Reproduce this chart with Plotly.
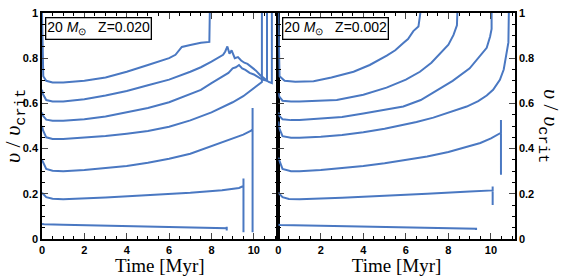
import plotly.graph_objects as go

# ---------------- data: left panel, Z = 0.020 ----------------
L1_t = [0, 0.1, 1, 3, 5, 7, 8.6, 8.72, 8.72, 8.72]
L1_v = [0.066, 0.065, 0.063, 0.059, 0.055, 0.051, 0.048, 0.048, 0.038, 0.054]

L2_t = [0, 0.05, 0.2, 0.5, 1, 3, 5, 7, 8.5, 9.3, 9.45, 9.51, 9.51, 9.51]
L2_v = [0.205, 0.2, 0.185, 0.178, 0.176, 0.184, 0.193, 0.205, 0.216, 0.226, 0.232, 0.232, 0.268, 0.03]

L3_t = [0, 0.05, 0.2, 0.5, 1, 2, 3, 4, 5, 6, 7, 8, 9, 9.5, 9.85, 9.94, 9.94, 9.94]
L3_v = [0.35, 0.34, 0.31, 0.302, 0.30, 0.305, 0.313, 0.323, 0.337, 0.355, 0.377, 0.41, 0.445, 0.462, 0.478, 0.485, 0.58, 0.03]

L4_t = [0, 0.05, 0.2, 0.5, 1, 2, 3, 4, 5, 6, 7, 8, 9, 9.5, 10, 10.38, 10.38]
L4_v = [0.5, 0.48, 0.45, 0.443, 0.443, 0.448, 0.456, 0.466, 0.478, 0.497, 0.525, 0.56, 0.605, 0.632, 0.67, 0.695, 1.0]

L5_t = [0, 0.05, 0.2, 0.5, 1, 2, 3, 4, 5, 6, 7, 7.5, 8, 8.5, 8.8, 9.0, 9.15, 9.3, 9.45,
        9.6, 9.8, 10.0, 10.2, 10.4, 10.62, 10.62]
L5_v = [0.56, 0.545, 0.528, 0.523, 0.523, 0.53, 0.542, 0.56, 0.58, 0.605, 0.64, 0.66, 0.69, 0.72, 0.735, 0.755, 0.76, 0.77, 0.755,
        0.748, 0.735, 0.728, 0.715, 0.705, 0.70, 1.0]

L6_t = [0, 0.05, 0.2, 0.5, 1, 2, 3, 4, 5, 6, 7, 7.5, 8, 8.3, 8.55, 8.65, 8.75, 8.85, 8.95, 9.1,
        9.25, 9.4, 9.55, 9.7, 9.9, 10.1, 10.3, 10.5, 10.7, 10.85, 10.85]
L6_v = [0.66, 0.64, 0.615, 0.608, 0.608, 0.618, 0.635, 0.655, 0.68, 0.705, 0.74, 0.76, 0.785, 0.8, 0.815, 0.83, 0.852, 0.82, 0.835, 0.8,
        0.805, 0.79, 0.78, 0.775, 0.76, 0.745, 0.725, 0.712, 0.695, 0.69, 1.0]

L7_t = [0, 0.03, 0.06, 0.2, 0.5, 1, 2, 3, 4, 5, 5.5, 6, 6.3, 6.5, 6.6, 7, 7.5, 7.9, 7.92]
L7_v = [1.0, 0.85, 0.72, 0.70, 0.693, 0.692, 0.70, 0.715, 0.74, 0.77, 0.785, 0.80, 0.815, 0.84, 0.85, 0.858, 0.868, 0.872, 1.0]

# ---------------- data: right panel, Z = 0.002 ----------------
R1_t = [0, 0.1, 2, 4, 6, 8, 9.28, 9.3, 9.3, 9.3]
R1_v = [0.063, 0.062, 0.059, 0.055, 0.051, 0.047, 0.045, 0.045, 0.04, 0.05]

R2_t = [0, 0.05, 0.2, 0.5, 1, 3, 5, 7, 9, 10.0, 10.08, 10.08, 10.08]
R2_v = [0.205, 0.2, 0.185, 0.177, 0.176, 0.183, 0.19, 0.2, 0.21, 0.214, 0.215, 0.232, 0.15]

R3_t = [0, 0.05, 0.2, 0.6, 1, 2, 3, 4, 5, 6, 7, 8, 9, 9.5, 10, 10.3, 10.47, 10.47, 10.47]
R3_v = [0.36, 0.345, 0.31, 0.30, 0.30, 0.305, 0.313, 0.323, 0.335, 0.35, 0.365, 0.385, 0.41, 0.425, 0.445, 0.46, 0.47, 0.527, 0.284]

R4_t = [0, 0.05, 0.2, 0.6, 1, 2, 3, 4, 5, 5.73, 6.5, 7.29, 8, 8.86, 9.4, 9.8, 10.1, 10.42, 10.6, 10.74, 10.82, 10.84]
R4_v = [0.52, 0.49, 0.455, 0.448, 0.448, 0.452, 0.46, 0.472, 0.488, 0.502, 0.518, 0.537, 0.56, 0.586, 0.61, 0.635, 0.66, 0.704, 0.75, 0.818, 0.87, 1.0]

R5_t = [0, 0.05, 0.2, 0.6, 1, 2, 3, 4, 5, 5.88, 6.7, 7.45, 8.2, 9.0, 9.4, 9.8, 9.96, 10.03, 10.03]
R5_v = [0.56, 0.545, 0.53, 0.526, 0.526, 0.532, 0.54, 0.555, 0.57, 0.586, 0.615, 0.657, 0.7, 0.755, 0.8, 0.846, 0.896, 0.93, 1.0]

R6_t = [0, 0.05, 0.2, 0.6, 1, 2, 2.75, 4, 5.09, 6, 6.66, 7.2, 7.76, 8.0, 8.24, 8.4, 8.42]
R6_v = [0.65, 0.63, 0.612, 0.608, 0.608, 0.611, 0.615, 0.638, 0.67, 0.705, 0.74, 0.78, 0.833, 0.86, 0.903, 0.945, 1.0]

R7_t = [0, 0.03, 0.06, 0.3, 0.8, 1.66, 2.5, 3.54, 4.3, 5.1, 5.5, 5.88, 6.1, 6.35, 6.59, 6.68]
R7_v = [1.0, 0.85, 0.72, 0.70, 0.696, 0.698, 0.715, 0.74, 0.77, 0.811, 0.835, 0.867, 0.885, 0.92, 0.94, 1.0]

left_series = [(L1_t, L1_v), (L2_t, L2_v), (L3_t, L3_v), (L4_t, L4_v), (L5_t, L5_v), (L6_t, L6_v), (L7_t, L7_v)]
right_series = [(R1_t, R1_v), (R2_t, R2_v), (R3_t, R3_v), (R4_t, R4_v), (R5_t, R5_v), (R6_t, R6_v), (R7_t, R7_v)]

x_ticks = [0, 2, 4, 6, 8, 10]
y_ticks = [0, 0.2, 0.4, 0.6, 0.8, 1]
y_ticklabels = ["0", "0.2", "0.4", "0.6", "0.8", "1"]
x_title = "Time [Myr]"
labels = ["20 <i>M</i><sub>⊙</sub>   Z=0.020", "20 <i>M</i><sub>⊙</sub>   Z=0.002"]

LINE = "#4a78c2"

fig = go.Figure()
for t, v in left_series:
    fig.add_trace(go.Scatter(x=t, y=v, mode="lines", line=dict(color=LINE, width=2),
                             xaxis="x", yaxis="y", showlegend=False, hoverinfo="skip"))
for t, v in right_series:
    fig.add_trace(go.Scatter(x=t, y=v, mode="lines", line=dict(color=LINE, width=2),
                             xaxis="x2", yaxis="y2", showlegend=False, hoverinfo="skip"))

tickfont = dict(family="Liberation Sans", size=11, color="black", weight="bold")
common_x = dict(range=[0, 11.13], tickvals=x_ticks, ticks="inside", ticklen=6, tickwidth=1.3,
                mirror="allticks", showline=True, linecolor="black", linewidth=1.5,
                showgrid=False, zeroline=False, tickfont=tickfont,
                minor=dict(dtick=0.5, ticks="inside", ticklen=3, tickwidth=1, tickcolor="black"),
                title=dict(text=x_title, font=dict(family="Liberation Serif", size=19, color="black"), standoff=0))
common_y = dict(range=[0, 1], tickvals=y_ticks, ticktext=y_ticklabels, ticks="inside", ticklen=6, tickwidth=1.3,
                mirror="allticks", showline=True, linecolor="black", linewidth=1.5,
                showgrid=False, zeroline=False, tickfont=tickfont,
                minor=dict(dtick=0.05, ticks="inside", ticklen=3, tickwidth=1, tickcolor="black"))

fig.update_layout(
    width=564, height=276,
    margin=dict(l=42, r=49, t=7, b=32),
    paper_bgcolor="white", plot_bgcolor="white",
    xaxis=dict(domain=[0, 0.4985], anchor="y", **common_x),
    yaxis=dict(domain=[0, 1], anchor="x", side="left", **common_y),
    xaxis2=dict(domain=[0.4995, 1], anchor="y2", **common_x),
    yaxis2=dict(domain=[0, 1], anchor="x2", side="right", **common_y),
)

ann_font = dict(family="Liberation Sans", size=14, color="black")
fig.add_annotation(x=0.007, y=0.983, xref="paper", yref="paper", xanchor="left", yanchor="top",
                   text=labels[0], showarrow=False, font=ann_font, bordercolor="black", borderwidth=1.3,
                   borderpad=1, bgcolor="white")
fig.add_annotation(x=0.507, y=0.983, xref="paper", yref="paper", xanchor="left", yanchor="top",
                   text=labels[1], showarrow=False, font=ann_font, bordercolor="black", borderwidth=1.3,
                   borderpad=1, bgcolor="white")

ytitle = ("<i>υ</i> / <i>υ</i><sub><span style=\"font-family:'Liberation Mono'\">crit</span></sub>")
yfont = dict(family="Liberation Serif", size=22, color="black")
fig.add_annotation(x=-0.057, y=0.5, xref="paper", yref="paper", text=ytitle, textangle=-90,
                   showarrow=False, font=yfont, xanchor="center", yanchor="middle")
fig.add_annotation(x=1.072, y=0.5, xref="paper", yref="paper", text=ytitle, textangle=90,
                   showarrow=False, font=yfont, xanchor="center", yanchor="middle")

fig.write_html("out.html")
